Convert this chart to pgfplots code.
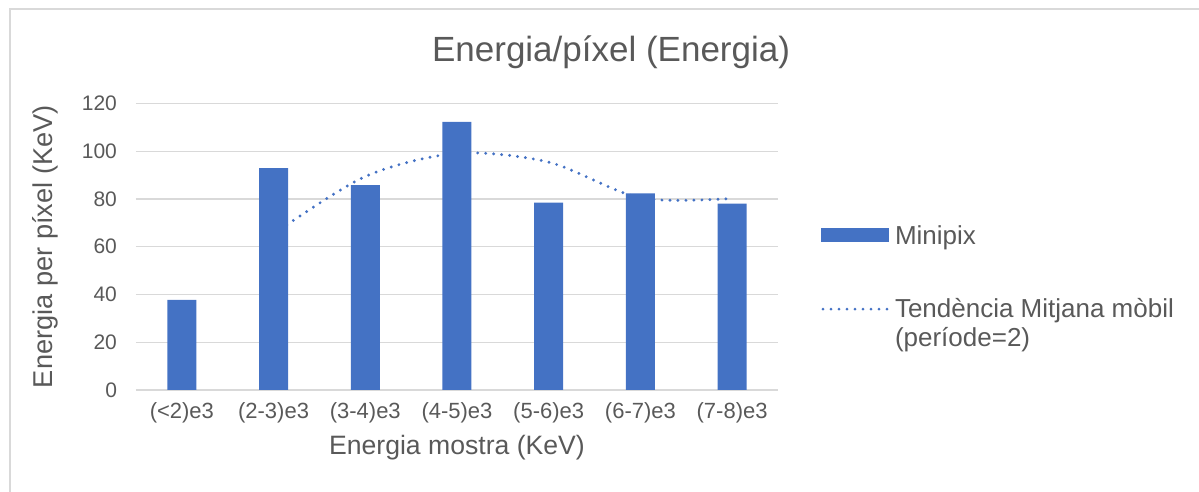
\documentclass[border=0pt]{standalone}
\usepackage{fontspec}
\setmainfont{Liberation Sans}
\usepackage{pgfplots}
\pgfplotsset{compat=1.18}
\definecolor{barblue}{HTML}{4472C4}
\definecolor{txtgray}{HTML}{595959}
\definecolor{gridgray}{HTML}{D9D9D9}

\begin{document}
\begin{tikzpicture}
\useasboundingbox (-68pt,-51pt) rectangle (531.5pt,195pt);
\draw[gridgray, line width=0.7pt] (-63pt,-51pt) -- (-63pt,190.5pt) -- (531.5pt,190.5pt);
\begin{axis}[
    at={(0pt,0pt)}, anchor=south west,
    scale only axis,
    width=321pt, height=143.3pt,
    xmin=-0.5, xmax=6.5,
    ymin=0, ymax=120,
    xtick={0,1,2,3,4,5,6},
    xticklabels={(<2)e3,(2-3)e3,(3-4)e3,(4-5)e3,(5-6)e3,(6-7)e3,(7-8)e3},
    ytick={0,20,40,60,80,100,120},
    ymajorgrids,
    grid style={gridgray, line width=0.65pt},
    axis x line*=bottom,
    axis y line*=left,
    x axis line style={gridgray, line width=0.65pt, -},
    y axis line style={draw=none},
    major tick length=0pt,
    /pgf/number format/assume math mode=true,
    x tick label style={font=\fontsize{11}{12}\selectfont, text=txtgray, yshift=-2.5pt},
    y tick label style={font=\fontsize{10.5}{12}\selectfont, text=txtgray, xshift=-6pt},
    xlabel={Energia mostra (KeV)},
    ylabel={Energia per píxel (KeV)},
    xlabel style={font=\fontsize{13.3}{15}\selectfont, text=txtgray, at={(axis description cs:0.5,-0.2024)}, anchor=center},
    ylabel style={font=\fontsize{13.6}{15}\selectfont, text=txtgray, at={(axis description cs:-0.1417,0.5)}, anchor=center},
    title={Energia/píxel (Energia)},
    title style={font=\fontsize{17.5}{20}\selectfont, text=txtgray, at={(axis description cs:0.74,1.137)}, anchor=center},
    legend style={at={(axis description cs:1.067,0.589)}, anchor=north west, draw=none, fill=none,
        inner sep=0pt, row sep=21pt, cells={anchor=base west},
        font=\fontsize{13}{14.5}\selectfont, text=txtgray},
]
\addplot[ybar, bar width=14.5pt, fill=barblue, draw=none,
    legend image code/.code={\fill[barblue] (0pt,1.3pt) rectangle (34pt,8pt);}]
    coordinates {(0,37.7) (1,92.9) (2,85.8) (3,112.3) (4,78.5) (5,82.3) (6,78.0)};
\addlegendentry{Minipix}
\addplot[smooth, barblue, line width=1.6pt, line cap=round, dash pattern=on 0pt off 4pt,
    legend image code/.code={\draw[barblue, line width=1.6pt, line cap=round, dash pattern=on 0pt off 4pt] (0.8pt,4.3pt) -- (34pt,4.3pt);}]
    coordinates {(1,65.3) (2,89.4) (3,99.1) (4,95.4) (5,80.4) (6,80.2)};
\addlegendentry{\begin{tabular}[t]{@{}l@{}}Tendència Mitjana mòbil\\(període=2)\end{tabular}}
\end{axis}
\end{tikzpicture}
\end{document}
